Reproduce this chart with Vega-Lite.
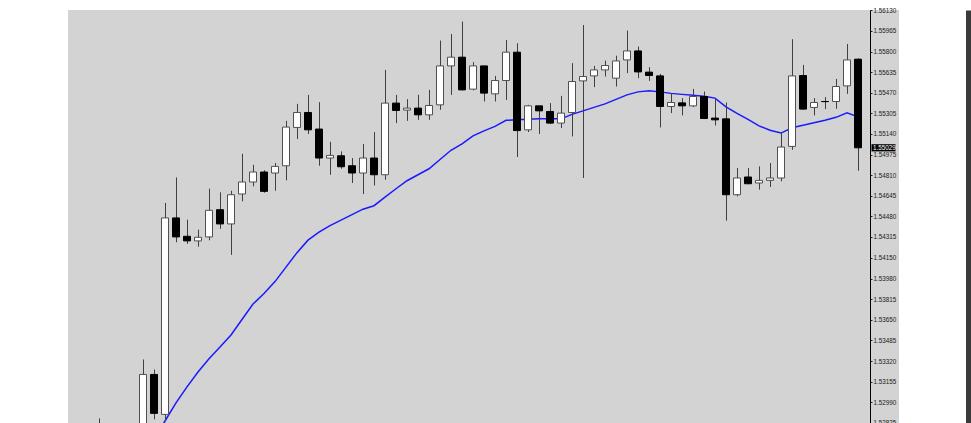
{
  "$schema": "https://vega.github.io/schema/vega-lite/v6.json",
  "width": 831,
  "height": 413,
  "autosize": {"type": "none"},
  "padding": {"left": 68, "top": 10, "right": 72, "bottom": 0},
  "background": "#ffffff",
  "view": {"fill": "#d3d3d3", "stroke": null},
  "config": {"scale": {"continuousPadding": 0}},
  "data": {"values": [
    {"i":0,"open":1.52720,"high":1.52861,"low":1.52660,"close":1.52790},
    {"i":1,"open":1.52790,"high":1.52810,"low":1.52700,"close":1.52740},
    {"i":2,"open":1.52740,"high":1.52780,"low":1.52650,"close":1.52700},
    {"i":3,"open":1.52700,"high":1.52760,"low":1.52620,"close":1.52660},
    {"i":4,"open":1.52700,"high":1.53333,"low":1.52620,"close":1.53213,"ma":1.52549},
    {"i":5,"open":1.53213,"high":1.53253,"low":1.52853,"close":1.52901,"ma":1.52693},
    {"i":6,"open":1.52893,"high":1.54587,"low":1.52840,"close":1.54467,"ma":1.52840},
    {"i":7,"open":1.54467,"high":1.54792,"low":1.54272,"close":1.54315,"ma":1.52985},
    {"i":8,"open":1.54320,"high":1.54453,"low":1.54259,"close":1.54283,"ma":1.53113},
    {"i":9,"open":1.54283,"high":1.54373,"low":1.54237,"close":1.54312,"ma":1.53233},
    {"i":10,"open":1.54315,"high":1.54701,"low":1.54288,"close":1.54528,"ma":1.53339},
    {"i":11,"open":1.54533,"high":1.54672,"low":1.54379,"close":1.54419,"ma":1.53433},
    {"i":12,"open":1.54419,"high":1.54685,"low":1.54171,"close":1.54653,"ma":1.53529},
    {"i":13,"open":1.54659,"high":1.54981,"low":1.54600,"close":1.54755,"ma":1.53653},
    {"i":14,"open":1.54755,"high":1.54893,"low":1.54720,"close":1.54835,"ma":1.53777},
    {"i":15,"open":1.54835,"high":1.54849,"low":1.54669,"close":1.54680,"ma":1.53861},
    {"i":16,"open":1.54827,"high":1.54907,"low":1.54685,"close":1.54880,"ma":1.53957},
    {"i":17,"open":1.54885,"high":1.55245,"low":1.54768,"close":1.55195,"ma":1.54073},
    {"i":18,"open":1.55192,"high":1.55381,"low":1.55099,"close":1.55312,"ma":1.54189},
    {"i":19,"open":1.55312,"high":1.55453,"low":1.55139,"close":1.55173,"ma":1.54289},
    {"i":20,"open":1.55179,"high":1.55395,"low":1.54885,"close":1.54947,"ma":1.54353},
    {"i":21,"open":1.54947,"high":1.55077,"low":1.54813,"close":1.54968,"ma":1.54405},
    {"i":22,"open":1.54965,"high":1.55000,"low":1.54861,"close":1.54877,"ma":1.54449},
    {"i":23,"open":1.54885,"high":1.54947,"low":1.54747,"close":1.54827,"ma":1.54493},
    {"i":24,"open":1.54827,"high":1.55059,"low":1.54659,"close":1.54947,"ma":1.54537},
    {"i":25,"open":1.54947,"high":1.55155,"low":1.54728,"close":1.54813,"ma":1.54565},
    {"i":26,"open":1.54813,"high":1.55653,"low":1.54773,"close":1.55387,"ma":1.54633},
    {"i":27,"open":1.55387,"high":1.55453,"low":1.55227,"close":1.55328,"ma":1.54701},
    {"i":28,"open":1.55331,"high":1.55419,"low":1.55245,"close":1.55347,"ma":1.54765},
    {"i":29,"open":1.55347,"high":1.55453,"low":1.55253,"close":1.55293,"ma":1.54813},
    {"i":30,"open":1.55293,"high":1.55493,"low":1.55253,"close":1.55368,"ma":1.54861},
    {"i":31,"open":1.55373,"high":1.55888,"low":1.55333,"close":1.55685,"ma":1.54935},
    {"i":32,"open":1.55685,"high":1.55941,"low":1.55453,"close":1.55755,"ma":1.55009},
    {"i":33,"open":1.55755,"high":1.56040,"low":1.55489,"close":1.55493,"ma":1.55061},
    {"i":34,"open":1.55499,"high":1.55715,"low":1.55489,"close":1.55685,"ma":1.55125},
    {"i":35,"open":1.55685,"high":1.55685,"low":1.55400,"close":1.55467,"ma":1.55165},
    {"i":36,"open":1.55461,"high":1.55605,"low":1.55400,"close":1.55568,"ma":1.55201},
    {"i":37,"open":1.55568,"high":1.55893,"low":1.55413,"close":1.55795,"ma":1.55249},
    {"i":38,"open":1.55795,"high":1.55867,"low":1.54955,"close":1.55167,"ma":1.55253},
    {"i":39,"open":1.55173,"high":1.55373,"low":1.55155,"close":1.55365,"ma":1.55257},
    {"i":40,"open":1.55365,"high":1.55365,"low":1.55139,"close":1.55325,"ma":1.55261},
    {"i":41,"open":1.55320,"high":1.55387,"low":1.55219,"close":1.55227,"ma":1.55261},
    {"i":42,"open":1.55227,"high":1.55445,"low":1.55187,"close":1.55307,"ma":1.55261},
    {"i":43,"open":1.55312,"high":1.55707,"low":1.55120,"close":1.55560,"ma":1.55297},
    {"i":44,"open":1.55565,"high":1.56013,"low":1.54787,"close":1.55600,"ma":1.55325},
    {"i":45,"open":1.55605,"high":1.55685,"low":1.55515,"close":1.55653,"ma":1.55353},
    {"i":46,"open":1.55653,"high":1.55728,"low":1.55600,"close":1.55688,"ma":1.55381},
    {"i":47,"open":1.55587,"high":1.55767,"low":1.55520,"close":1.55725,"ma":1.55417},
    {"i":48,"open":1.55733,"high":1.55968,"low":1.55627,"close":1.55805,"ma":1.55453},
    {"i":49,"open":1.55805,"high":1.55840,"low":1.55587,"close":1.55637,"ma":1.55477},
    {"i":50,"open":1.55635,"high":1.55675,"low":1.55565,"close":1.55608,"ma":1.55485},
    {"i":51,"open":1.55605,"high":1.55621,"low":1.55192,"close":1.55360,"ma":1.55477},
    {"i":52,"open":1.55360,"high":1.55467,"low":1.55307,"close":1.55392,"ma":1.55465},
    {"i":53,"open":1.55389,"high":1.55427,"low":1.55288,"close":1.55365,"ma":1.55457},
    {"i":54,"open":1.55365,"high":1.55501,"low":1.55355,"close":1.55440,"ma":1.55449},
    {"i":55,"open":1.55440,"high":1.55480,"low":1.55259,"close":1.55264,"ma":1.55441},
    {"i":56,"open":1.55267,"high":1.55419,"low":1.55207,"close":1.55253,"ma":1.55427},
    {"i":57,"open":1.55261,"high":1.55392,"low":1.54445,"close":1.54653,"ma":1.55357},
    {"i":58,"open":1.54653,"high":1.54867,"low":1.54640,"close":1.54787,"ma":1.55305},
    {"i":59,"open":1.54795,"high":1.54867,"low":1.54737,"close":1.54741,"ma":1.55257},
    {"i":60,"open":1.54747,"high":1.54880,"low":1.54693,"close":1.54768,"ma":1.55205},
    {"i":61,"open":1.54768,"high":1.54907,"low":1.54715,"close":1.54787,"ma":1.55169},
    {"i":62,"open":1.54787,"high":1.55147,"low":1.54760,"close":1.55035,"ma":1.55147},
    {"i":63,"open":1.55040,"high":1.55899,"low":1.55013,"close":1.55605,"ma":1.55189},
    {"i":64,"open":1.55608,"high":1.55693,"low":1.55337,"close":1.55339,"ma":1.55209},
    {"i":65,"open":1.55352,"high":1.55427,"low":1.55288,"close":1.55392,"ma":1.55229},
    {"i":66,"open":1.55400,"high":1.55435,"low":1.55339,"close":1.55399,"ma":1.55249},
    {"i":67,"open":1.55400,"high":1.55581,"low":1.55341,"close":1.55520,"ma":1.55273},
    {"i":68,"open":1.55525,"high":1.55861,"low":1.55461,"close":1.55733,"ma":1.55309},
    {"i":69,"open":1.55739,"high":1.55745,"low":1.54845,"close":1.55029,"ma":1.55277}
  ]},
  "resolve": {"axis": {"y": "independent"}},
  "layer": [
    {
      "mark": {"type": "line", "color": "#1a1aff", "strokeWidth": 1.5, "clip": true},
      "encoding": {
        "x": {"field": "i", "type": "quantitative", "scale": {"domain": [-2.8181818, 72.7272727], "nice": false, "zero": false, "padding": 0}, "axis": null},
        "y": {"field": "ma", "type": "quantitative", "scale": {"domain": [1.52824, 1.56133], "nice": false, "zero": false, "padding": 0}, "axis": null}
      }
    },
    {
      "mark": {"type": "rule", "color": "#404040", "strokeWidth": 1, "xOffset": 0.5, "clip": true},
      "encoding": {
        "x": {"field": "i", "type": "quantitative", "scale": {"domain": [-2.8181818, 72.7272727], "nice": false, "zero": false, "padding": 0}, "axis": null},
        "y": {"field": "low", "type": "quantitative", "scale": {"domain": [1.52824, 1.56133], "nice": false, "zero": false, "padding": 0},
              "axis": {"orient": "right", "offset": 69, "domainColor": "#3a3a3a", "domainWidth": 5, "labels": false, "ticks": false, "grid": false, "title": null}},
        "y2": {"field": "high"}
      }
    },
    {
      "mark": {"type": "bar", "size": 7, "strokeWidth": 1, "clip": true},
      "encoding": {
        "x": {"field": "i", "type": "quantitative", "scale": {"domain": [-2.8181818, 72.7272727], "nice": false, "zero": false, "padding": 0}, "axis": null},
        "y": {"field": "open", "type": "quantitative", "scale": {"domain": [1.52824, 1.56133], "nice": false, "zero": false, "padding": 0},
              "axis": {"orient": "right", "offset": -29, "title": null, "grid": false,
                       "values": [1.5613, 1.55965, 1.558, 1.55635, 1.5547, 1.55305, 1.5514, 1.54975, 1.5481, 1.54645, 1.5448, 1.54315, 1.5415, 1.5398, 1.53815, 1.5365, 1.53485, 1.5332, 1.53155, 1.5299, 1.52825],
                       "format": ".5f", "labelFont": "Liberation Sans", "labelFontSize": 6.3, "labelColor": "#1a1a1a",
                       "tickSize": 2, "tickColor": "#222222", "domainColor": "#000000", "domainWidth": 1,
                       "labelPadding": 1, "labelOverlap": false, "labelFlush": false, "labelBound": false}},
        "y2": {"field": "close"},
        "fill": {"condition": {"test": "datum.close >= datum.open", "value": "#ffffff"}, "value": "#000000"},
        "stroke": {"condition": {"test": "datum.close >= datum.open", "value": "#505050"}, "value": "#000000"}
      }
    },
    {
      "transform": [{"filter": "datum.i == 69"}],
      "mark": {"type": "point", "shape": "M-1,-0.3L1,-0.3L1,0.3L-1,0.3Z", "size": 576, "filled": true, "color": "#000000", "opacity": 1, "xOffset": 25.5, "clip": false},
      "encoding": {
        "x": {"field": "i", "type": "quantitative", "scale": {"domain": [-2.8181818, 72.7272727], "nice": false, "zero": false, "padding": 0}, "axis": null},
        "y": {"field": "close", "type": "quantitative", "axis": null}
      }
    },
    {
      "transform": [{"filter": "datum.i == 69"}],
      "mark": {"type": "text", "color": "#ffffff", "font": "Liberation Sans", "fontSize": 6.3, "align": "left", "baseline": "middle", "dx": 15, "clip": false},
      "encoding": {
        "x": {"field": "i", "type": "quantitative", "axis": null},
        "y": {"field": "close", "type": "quantitative", "axis": null},
        "text": {"field": "close", "type": "quantitative", "format": ".5f"}
      }
    }
  ]
}
